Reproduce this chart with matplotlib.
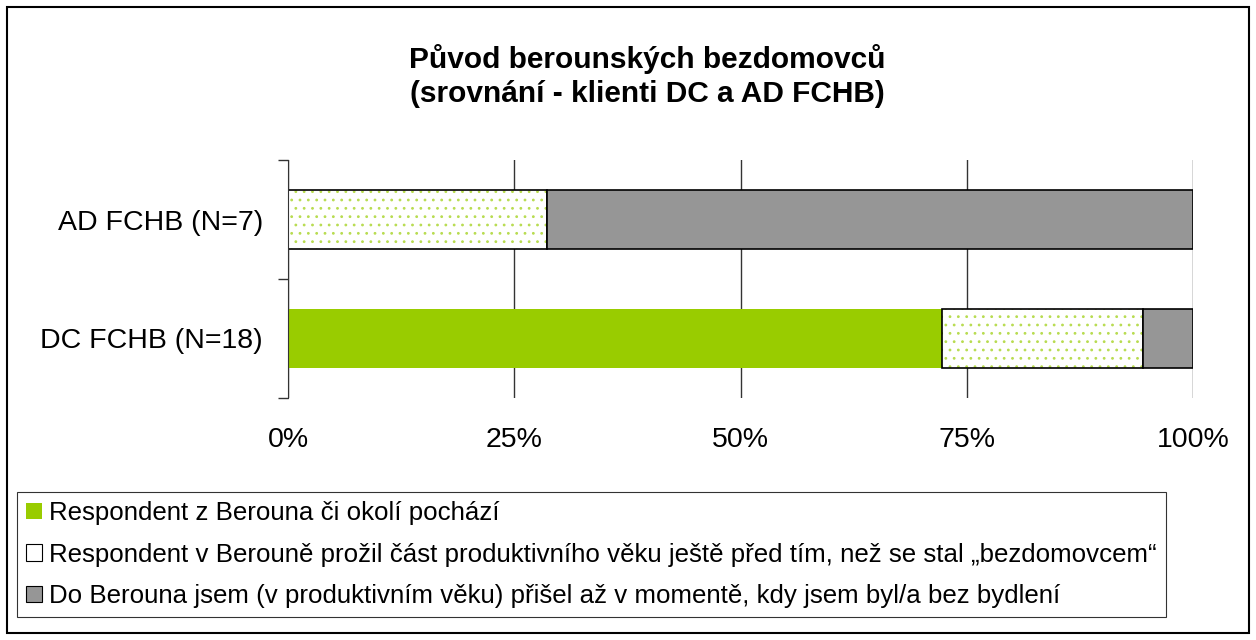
import numpy as np
import matplotlib.pyplot as plt
from matplotlib.patches import Rectangle, Patch

plt.rcParams['font.family'] = ['Liberation Sans', 'DejaVu Sans']
plt.rcParams['hatch.linewidth'] = 0.8

categories = ['DC FCHB (N=18)', 'AD FCHB (N=7)']
# počty respondentů
z_berouna = [13, 0]
cast_veku = [4, 2]
prisel_bez = [1, 5]
series_labels = [
    'Respondent z Berouna či okolí pochází',
    'Respondent v Berouně prožil část produktivního věku ještě před tím, než se stal „bezdomovcem“',
    'Do Berouna jsem (v produktivním věku) přišel až v momentě, kdy jsem byl/a bez bydlení',
]
x_ticks = [0, 25, 50, 75, 100]
x_tick_labels = ['0%', '25%', '50%', '75%', '100%']

counts = np.array([z_berouna, cast_veku, prisel_bez], dtype=float)
pct = counts / counts.sum(axis=0) * 100

green = '#99cc00'
gray = '#969696'
dots = '#b8dc50'

fig = plt.figure(figsize=(12.56, 6.4), dpi=100)
ax = fig.add_axes([288 / 1256, 1 - 398 / 640, 905 / 1256, 238 / 640])

y = np.arange(len(categories))
left = np.zeros(len(categories))
for i, vals in enumerate(pct):
    if i == 0:
        ax.barh(y, vals, left=left, height=0.5, color=green, edgecolor='none', zorder=3)
    elif i == 1:
        # tečkovaná výplň zvlášť, aby tečky byly zelené a obrys černý
        ax.barh(y, vals, left=left, height=0.5, color='white', edgecolor=dots,
                hatch='..', linewidth=0, zorder=3)
        ax.barh(y, vals, left=left, height=0.5, fill=False, edgecolor='black',
                linewidth=1.2, zorder=4)
    else:
        ax.barh(y, vals, left=left, height=0.5, color=gray, edgecolor='black',
                linewidth=1.2, zorder=4)
    left += vals

ax.set_xlim(0, 100)
ax.set_ylim(-0.5, 1.5)
ax.set_xticks(x_ticks)
ax.set_xticklabels(x_tick_labels, fontsize=20.5)
ax.set_yticks(y)
ax.set_yticklabels(categories, fontsize=20.5)
ax.set_yticks([-0.5, 0.5, 1.5], minor=True)
ax.tick_params(axis='y', which='major', length=0, pad=18)
ax.tick_params(axis='y', which='minor', length=7, width=1, color='#333333')
ax.tick_params(axis='x', length=0, pad=21)
ax.grid(axis='x', color='#333333', linewidth=1, zorder=0)
for s in ['top', 'right', 'bottom']:
    ax.spines[s].set_visible(False)
ax.spines['left'].set_color('#333333')
ax.spines['left'].set_zorder(5)

fig.text(647 / 1256, 1 - 76 / 640,
         'Původ berounských bezdomovců\n(srovnání - klienti DC a AD FCHB)',
         ha='center', va='center', fontsize=21.5, fontweight='bold', linespacing=1.3)

handles = [Patch(facecolor=green, edgecolor='none'),
           Patch(facecolor='white', edgecolor='black', linewidth=0.8),
           Patch(facecolor=gray, edgecolor='black', linewidth=0.8)]
leg = fig.legend(handles, series_labels, loc='upper left',
                 bbox_to_anchor=(17 / 1256, 1 - 492 / 640), fontsize=18.6,
                 frameon=True, fancybox=False, edgecolor='black',
                 handlelength=0.6, handleheight=0.6, handletextpad=0.3,
                 labelspacing=0.68, borderpad=0.35, borderaxespad=0)
leg.get_frame().set_linewidth(0.8)

fig.patches.append(Rectangle((7 / 1256, 7 / 640), 1242 / 1256, 626 / 640,
                             transform=fig.transFigure, fill=False,
                             edgecolor='black', linewidth=1.5))

fig.savefig('out.png', dpi=100)
